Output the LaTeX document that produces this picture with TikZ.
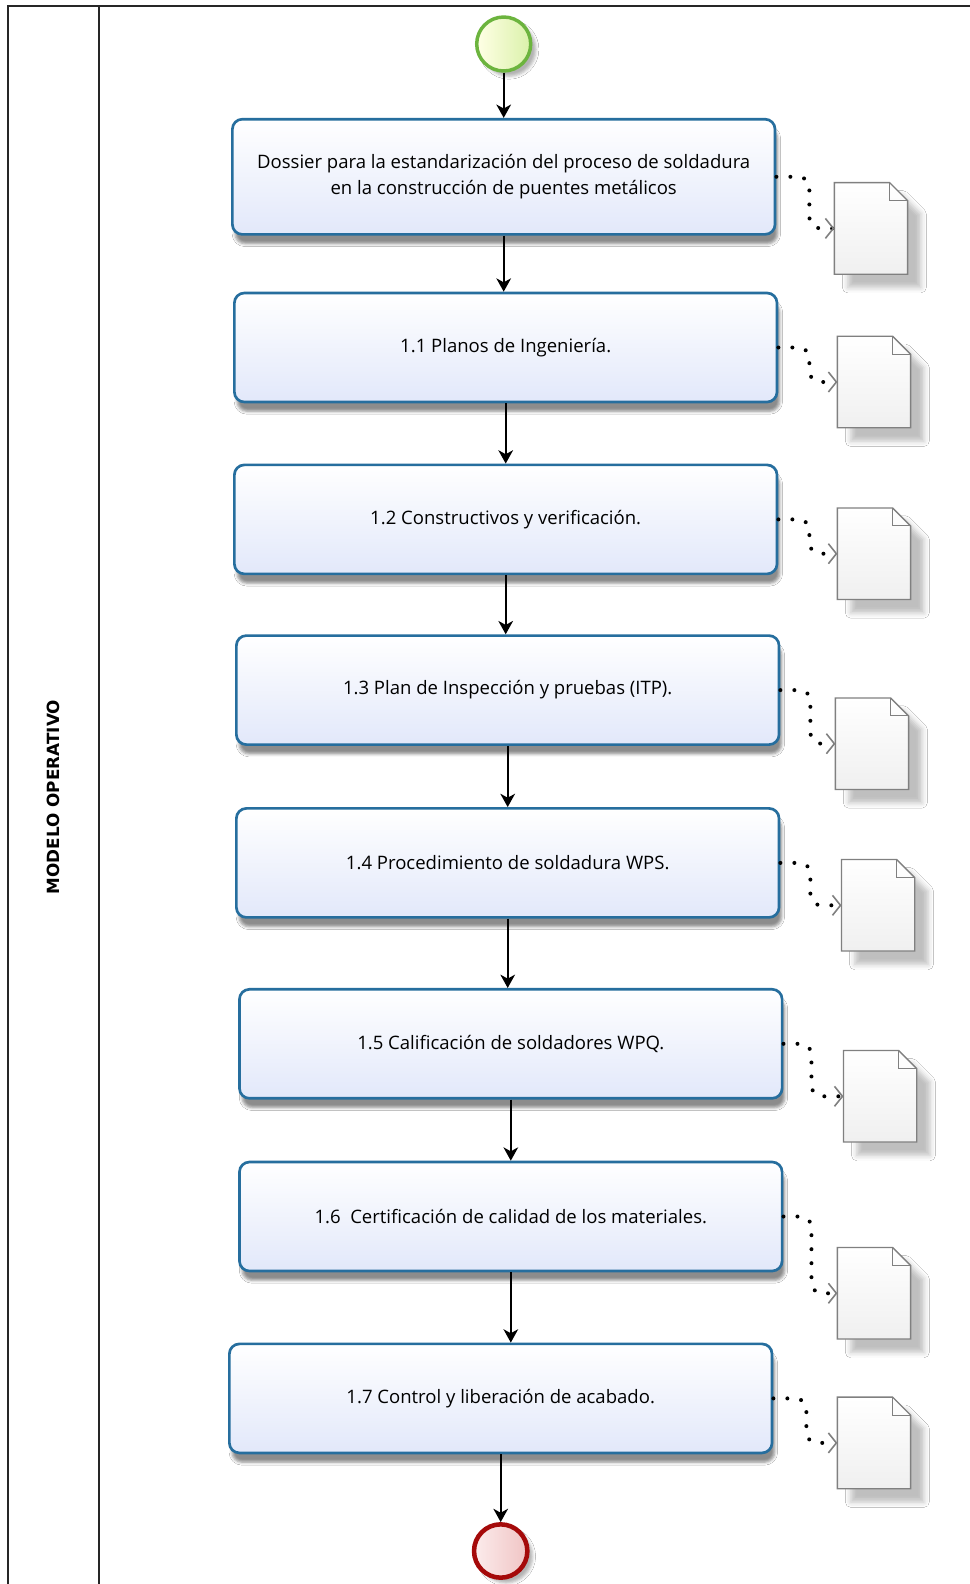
\documentclass[tikz,border=0pt]{standalone}
\usepackage{fontspec}
\setmainfont{Open Sans}
\newfontfamily\lanefont{DejaVu Sans}
\usetikzlibrary{arrows.meta,shadows,shadows.blur}
\definecolor{taskblue}{RGB}{38,110,158}
\definecolor{tasklav}{RGB}{226,232,250}
\definecolor{startgreen}{RGB}{108,180,62}
\definecolor{endred}{RGB}{165,10,10}
\definecolor{docgray}{RGB}{128,128,128}
\newcommand\docshape[2]{%
  \node[docbox] (#1) at #2 {};
  \draw[docline] (#1.north west) -- ([xshift=-13.5pt]#1.north east) -- ([yshift=-13.5pt]#1.north east) -- (#1.south east) -- (#1.south west) -- cycle;
  \draw[docfold] ([xshift=-13.5pt]#1.north east) |- ([yshift=-13.5pt]#1.north east);
}
\begin{document}
\begin{tikzpicture}[x=0.75pt,y=-0.75pt,
  task/.style={draw=taskblue, line width=2pt, rounded corners=7.5pt,
    top color=white, bottom color=tasklav,
    minimum width=407pt, minimum height=81.75pt, align=center,
    font=\fontsize{13.9}{19.5}\selectfont,
    blur shadow={shadow xshift=2pt, shadow yshift=-7pt, shadow opacity=45}},
  flow/.style={-{Stealth[length=10pt,width=11pt,inset=3pt]}, line width=1.3pt, black},
  assoc/.style={line width=3pt, dash pattern=on 0pt off 10.5pt, line cap=round,
    rounded corners=8pt,
    -{Straight Barb[length=6pt,width=15pt,line width=1.2pt,color=docgray]}},
  docbox/.style={minimum width=54.5pt, minimum height=68.25pt, inner sep=0pt, draw=none},
  docline/.style={draw=docgray, line width=1pt, top color=white, bottom color=gray!12,
    blur shadow={shadow xshift=10pt, shadow yshift=-10pt, shadow opacity=25, shadow blur radius=4pt}},
  docfold/.style={draw=docgray, line width=0.8pt},
  frameline/.style={draw=black!85, line width=1.2pt},
  startev/.style={circle, draw=startgreen, line width=2.6pt, minimum size=40.5pt, inner sep=0pt,
    left color=white!90!yellow, right color={rgb,255:red,218;green,241;blue,170},
    blur shadow={shadow xshift=4pt, shadow yshift=-4pt, shadow opacity=30}},
  endev/.style={circle, draw=endred, line width=3.4pt, minimum size=40pt, inner sep=0pt,
    left color={rgb,255:red,252;green,236;blue,236}, right color={rgb,255:red,240;green,196;blue,196},
    blur shadow={shadow xshift=4pt, shadow yshift=-4pt, shadow opacity=30}},
]
\useasboundingbox (0,0) rectangle (970,1584);
\fill[white] (0,0) rectangle (970,1584);
% pool / lane frame
\draw[frameline] (8,1600) -- (8,6) -- (990,6);
\draw[frameline] (99,6) -- (99,1600);
\node[rotate=90, font=\lanefont\bfseries\fontsize{12.6}{14}\selectfont] (lane) at (53,797) {MODELO OPERATIVO};

% events
\node[startev] (start) at (503.7,44) {};
\node[endev] (end) at (500.7,1551) {};

% tasks
\node[task, minimum height=86.4pt] (t0) at (503.7,176.8) {Dossier para la estandarización del proceso de soldadura\\en la construcción de puentes metálicos};
\node[task] (t1) at (505.7,347.5) {1.1 Planos de Ingeniería.};
\node[task] (t2) at (505.7,519.4) {1.2 Constructivos y verificación.};
\node[task] (t3) at (507.7,690.1) {1.3 Plan de Inspección y pruebas (ITP).};
\node[task] (t4) at (507.7,862.9) {1.4 Procedimiento de soldadura WPS.};
\node[task] (t5) at (510.8,1043.8) {1.5 Calificación de soldadores WPQ.};
\node[task] (t6) at (510.8,1216.5) {1.6 \ Certificación de calidad de los materiales.};
\node[task] (t7) at (500.7,1398.4) {1.7 Control y liberación de acabado.};

% documents
\docshape{d0}{(871,228.4)}
\docshape{d1}{(874,382)}
\docshape{d2}{(874,553.7)}
\docshape{d3}{(872,743.7)}
\docshape{d4}{(878.1,905.3)}
\docshape{d5}{(880.1,1096.3)}
\docshape{d6}{(874,1293.3)}
\docshape{d7}{(874,1442.9)}

% sequence flows
\draw[flow] (start) -- (start |- t0.north);
\draw[flow] (t0.south) -- (t0.south |- t1.north);
\draw[flow] (t1.south) -- (t1.south |- t2.north);
\draw[flow] (t2.south) -- (t2.south |- t3.north);
\draw[flow] (t3.south) -- (t3.south |- t4.north);
\draw[flow] (t4.south) -- (t4.south |- t5.north);
\draw[flow] (t5.south) -- (t5.south |- t6.north);
\draw[flow] (t6.south) -- (t6.south |- t7.north);
\draw[flow] (t7.south) -- (t7.south |- end.north);

% associations
\draw[assoc] (t0.east) -- ++(33,0) |- (d0.west);
\draw[assoc] (t1.east) -- ++(31,0) |- (d1.west);
\draw[assoc] (t2.east) -- ++(31,0) |- (d2.west);
\draw[assoc] (t3.east) -- ++(30,0) |- (d3.west);
\draw[assoc] (t4.east) -- ++(30,0) |- (d4.west);
\draw[assoc] (t5.east) -- ++(28,0) |- (d5.west);
\draw[assoc] (t6.east) -- ++(28,0) |- (d6.west);
\draw[assoc] (t7.east) -- ++(33,0) |- (d7.west);
\end{tikzpicture}
\end{document}
